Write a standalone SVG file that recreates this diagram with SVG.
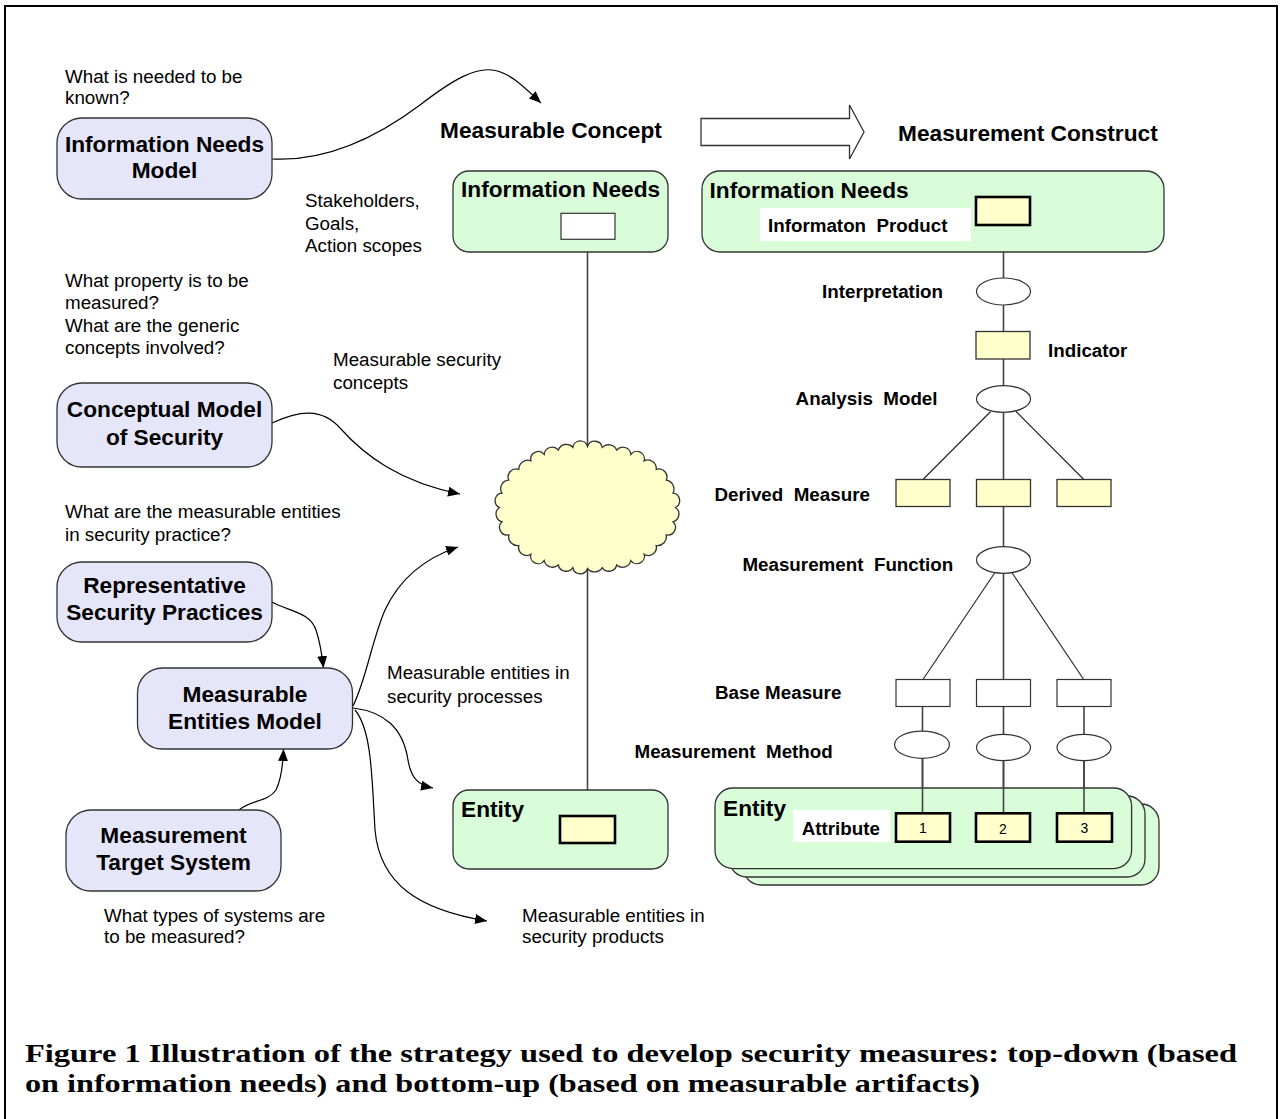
<svg xmlns="http://www.w3.org/2000/svg" width="1280" height="1119" viewBox="0 0 1280 1119">
<defs>
<style>
 .frame{fill:none;stroke:#000;stroke-width:2}
 .model{fill:#E6E6FA;stroke:#333;stroke-width:1.3}
 .green{fill:#D9FCD9;stroke:#333;stroke-width:1.3}
 .yel{fill:#FFFFCC;stroke:#333;stroke-width:1.3}
 .yelb{fill:#FFFFCC;stroke:#000;stroke-width:2.6}
 .wbox{fill:#fff;stroke:#333;stroke-width:1.2}
 .ell{fill:#fff;stroke:#333;stroke-width:1.2}
 .plain{fill:#fff}
 .cloud{fill:#FFFFCC;stroke:#333;stroke-width:1.3}
 .stem{fill:none;stroke:#444;stroke-width:1.6}
 .thin{fill:none;stroke:#222;stroke-width:1.1}
 .flow{fill:none;stroke:#000;stroke-width:1.2;marker-end:url(#ah)}
 .block{fill:#fff;stroke:#333;stroke-width:1.3}
 text{font-family:"Liberation Sans",Arial,sans-serif;fill:#000}
 .q{font-size:18.8px}
 .h{font-size:22.7px;font-weight:bold}
 .m{font-size:22.7px;font-weight:bold;text-anchor:middle}
 .s{font-size:18.8px;font-weight:bold;white-space:pre}
 .n{font-size:14px;text-anchor:middle}
 .cap{font-family:"Liberation Serif","Times New Roman",serif;font-size:25px;font-weight:bold}
</style>
<marker id="ah" markerUnits="userSpaceOnUse" markerWidth="13" markerHeight="10" refX="12" refY="5" orient="auto">
 <path d="M0,0 L12,5 L0,10 z" fill="#000"/>
</marker>
</defs>

<rect class="frame" x="5" y="6" width="1272" height="1130"/>

<!-- connectors -->
<g id="connectors">
 <!-- measurable concept stem -->
 <line class="stem" x1="587.5" y1="239" x2="587.5" y2="816"/>
 <!-- measurement construct tree -->
 <line class="stem" x1="1003.5" y1="225" x2="1003.5" y2="813"/>
 <line class="stem" x1="922.5" y1="706" x2="922.5" y2="813"/>
 <line class="stem" x1="1084" y1="706" x2="1084" y2="813"/>
 <line class="thin" x1="990.7" y1="411.5" x2="923" y2="479.5"/>
 <line class="thin" x1="1016" y1="411.5" x2="1083.8" y2="479.5"/>
 <line class="thin" x1="994.6" y1="573" x2="923" y2="679.5"/>
 <line class="thin" x1="1012.2" y1="573" x2="1083.7" y2="679.5"/>
 <!-- model flows -->
 <path class="flow" d="M272,159 C330,162 380,135 420,105 C455,78 475,68 492,70 C510,72 525,88 541,103"/>
 <path class="flow" d="M272,423 C300,410 322,408 340,428 C365,456 400,482 460,494"/>
 <path class="flow" d="M272,602 C290,612 310,612 316,630 C320,642 322,655 323.5,668"/>
 <path class="flow" d="M239,810 C250,800 268,802 276,790 C282,778 283,762 283.5,749"/>
 <path class="flow" d="M353,706 C366,680 372,640 385,610 C400,578 425,558 458,547"/>
 <path class="flow" d="M353,708 C385,712 403,728 408,760 C411,778 418,785 433,788"/>
 <path class="flow" d="M355,710 C372,730 372,780 375,830 C380,885 420,910 487,921"/>
</g>

<g id="transition-arrow">
 <polygon class="block" points="701,118.5 849.5,118.5 849.5,105 864,132 849.5,159 849.5,145.5 701,145.5"/>
</g>

<!-- model boxes -->
<g id="information-needs-model">
 <rect class="model" x="57" y="118" width="215" height="81" rx="25"/>
 <text class="m" x="164.5" y="151.7">Information Needs</text>
 <text class="m" x="164.5" y="178.3">Model</text>
</g>
<g id="conceptual-model">
 <rect class="model" x="57" y="383" width="215" height="84" rx="25"/>
 <text class="m" x="164.5" y="416.7">Conceptual Model</text>
 <text class="m" x="164.5" y="445">of Security</text>
</g>
<g id="representative-practices">
 <rect class="model" x="57" y="562" width="215" height="80" rx="25"/>
 <text class="m" x="164.5" y="593.3">Representative</text>
 <text class="m" x="164.5" y="620">Security Practices</text>
</g>
<g id="measurable-entities-model">
 <rect class="model" x="137.5" y="668" width="215" height="81" rx="25"/>
 <text class="m" x="245" y="701.7">Measurable</text>
 <text class="m" x="245" y="729.3">Entities Model</text>
</g>
<g id="measurement-target-system">
 <rect class="model" x="66" y="810" width="215" height="81" rx="25"/>
 <text class="m" x="173.5" y="842.7">Measurement</text>
 <text class="m" x="173.5" y="870">Target System</text>
</g>

<!-- measurable concept column -->
<g id="concept-information-needs">
 <rect class="green" x="453" y="171" width="215" height="81" rx="16"/>
 <text class="h" x="461" y="197.3">Information Needs</text>
 <rect class="wbox" x="561" y="213.3" width="54" height="26"/>
</g>
<g id="security-concepts-cloud">
 <path class="cloud" d="M675.5,507.5 A8,8 0 0 1 673,521.8 A7.6,7.6 0 0 1 666.2,534.8 A9,9 0 0 1 656.2,545.6 A8,8 0 0 1 644.1,554.2 A7.5,7.5 0 0 1 630.8,560.6 A8.5,8.5 0 0 1 616.7,565 A8,8 0 0 1 602.2,567.6 A9,9 0 0 1 587.5,568.5 A7.6,7.6 0 0 1 572.8,567.6 A8,8 0 0 1 558.3,565 A8.6,8.6 0 0 1 544.2,560.6 A7.5,7.5 0 0 1 530.9,554.2 A8,8 0 0 1 518.8,545.6 A9,9 0 0 1 508.8,534.8 A7.6,7.6 0 0 1 502,521.8 A8,8 0 0 1 499.5,507.5 A7.5,7.5 0 0 1 502,493.2 A8.5,8.5 0 0 1 508.8,480.2 A8,8 0 0 1 518.8,469.4 A9,9 0 0 1 530.9,460.8 A7.6,7.6 0 0 1 544.2,454.4 A8,8 0 0 1 558.3,450 A8.5,8.5 0 0 1 572.8,447.4 A7.5,7.5 0 0 1 587.5,446.5 A7.6,7.6 0 0 1 602.2,447.4 A9,9 0 0 1 616.7,450 A8,8 0 0 1 630.8,454.4 A7.5,7.5 0 0 1 644.1,460.8 A8.5,8.5 0 0 1 656.2,469.4 A8,8 0 0 1 666.2,480.2 A9,9 0 0 1 673,493.2 A7.6,7.6 0 0 1 675.5,507.5 Z"/>
</g>
<g id="concept-entity">
 <rect class="green" x="453" y="790" width="215" height="79" rx="16"/>
 <text class="h" x="461" y="816.7">Entity</text>
 <rect class="yelb" x="560" y="816" width="55" height="27"/>
</g>

<!-- measurement construct column -->
<g id="construct-information-needs">
 <rect class="green" x="702" y="171" width="462" height="81" rx="18"/>
 <text class="h" x="709.5" y="198">Information Needs</text>
 <rect class="plain" x="760" y="208" width="211" height="33"/>
 <text class="s" x="768" y="231.7">Informaton  Product</text>
 <rect class="yelb" x="976" y="197" width="54" height="28"/>
</g>
<g id="interpretation">
 <ellipse class="ell" cx="1003.5" cy="291.5" rx="27" ry="13.5"/>
 <text class="s" x="822" y="297.7">Interpretation</text>
</g>
<g id="indicator">
 <rect class="yel" x="976" y="331.5" width="54" height="27.5"/>
 <text class="s" x="1048" y="356.7">Indicator</text>
</g>
<g id="analysis-model">
 <ellipse class="ell" cx="1003.5" cy="399" rx="27" ry="13.3"/>
 <text class="s" x="795.6" y="405">Analysis  Model</text>
</g>
<g id="derived-measure">
 <rect class="yel" x="896" y="479.5" width="54" height="27"/>
 <rect class="yel" x="976.5" y="479.5" width="54" height="27"/>
 <rect class="yel" x="1057" y="479.5" width="54" height="27"/>
 <text class="s" x="714.4" y="501">Derived  Measure</text>
</g>
<g id="measurement-function">
 <ellipse class="ell" cx="1003.5" cy="560" rx="27" ry="13.3"/>
 <text class="s" x="742.4" y="570.7">Measurement  Function</text>
</g>
<g id="base-measure">
 <rect class="wbox" x="896" y="679.5" width="54" height="27"/>
 <rect class="wbox" x="976.5" y="679.5" width="54" height="27"/>
 <rect class="wbox" x="1057" y="679.5" width="54" height="27"/>
 <text class="s" x="715" y="699.3">Base Measure</text>
</g>
<g id="measurement-method">
 <ellipse class="ell" cx="922" cy="744.7" rx="27.4" ry="13.6"/>
 <ellipse class="ell" cx="1003.5" cy="747.5" rx="27" ry="13.2"/>
 <ellipse class="ell" cx="1084" cy="747.5" rx="27" ry="13.2"/>
 <text class="s" x="634.5" y="758">Measurement  Method</text>
</g>
<g id="construct-entity">
 <rect class="green" x="743" y="804" width="416" height="81" rx="18"/>
 <rect class="green" x="729" y="796" width="416" height="81" rx="18"/>
 <rect class="green" x="715" y="788" width="416.6" height="80.6" rx="18"/>
 <line class="stem" x1="922.5" y1="758" x2="922.5" y2="813"/>
 <line class="stem" x1="1003.5" y1="760.7" x2="1003.5" y2="813"/>
 <line class="stem" x1="1084" y1="760.7" x2="1084" y2="813"/>
 <text class="h" x="723" y="815.7">Entity</text>
 <rect class="plain" x="793" y="810" width="97" height="32"/>
 <text class="s" x="801.7" y="835">Attribute</text>
 <rect class="yelb" x="896" y="813.3" width="54" height="28.4"/>
 <rect class="yelb" x="976" y="813.3" width="54" height="28.4"/>
 <rect class="yelb" x="1057" y="813.3" width="55" height="28.4"/>
 <text class="n" x="923" y="832.7">1</text>
 <text class="n" x="1003" y="833.7">2</text>
 <text class="n" x="1084.5" y="832.7">3</text>
</g>

<!-- headings and annotations -->
<g id="annotations">
 <text class="h" x="440" y="138.3">Measurable Concept</text>
 <text class="h" x="898" y="140.7">Measurement Construct</text>
 <text class="q" x="65" y="83">What is needed to be</text>
 <text class="q" x="65" y="104">known?</text>
 <text class="q" x="305" y="207">Stakeholders,</text>
 <text class="q" x="305" y="230">Goals,</text>
 <text class="q" x="305" y="252">Action scopes</text>
 <text class="q" x="65" y="287">What property is to be</text>
 <text class="q" x="65" y="309.3">measured?</text>
 <text class="q" x="65" y="331.7">What are the generic</text>
 <text class="q" x="65" y="354.3">concepts involved?</text>
 <text class="q" x="333" y="366">Measurable security</text>
 <text class="q" x="333" y="389.3">concepts</text>
 <text class="q" x="65" y="518.3">What are the measurable entities</text>
 <text class="q" x="65" y="541">in security practice?</text>
 <text class="q" x="387" y="679.3">Measurable entities in</text>
 <text class="q" x="387" y="702.7">security processes</text>
 <text class="q" x="104" y="921.7">What types of systems are</text>
 <text class="q" x="104" y="943.3">to be measured?</text>
 <text class="q" x="522" y="921.7">Measurable entities in</text>
 <text class="q" x="522" y="943.3">security products</text>
</g>

<g id="caption">
 <text class="cap" x="25" y="1062" textLength="1212" lengthAdjust="spacingAndGlyphs">Figure 1 Illustration of the strategy used to develop security measures: top-down (based</text>
 <text class="cap" x="25" y="1092" textLength="955" lengthAdjust="spacingAndGlyphs">on information needs) and bottom-up (based on measurable artifacts)</text>
</g>
</svg>
